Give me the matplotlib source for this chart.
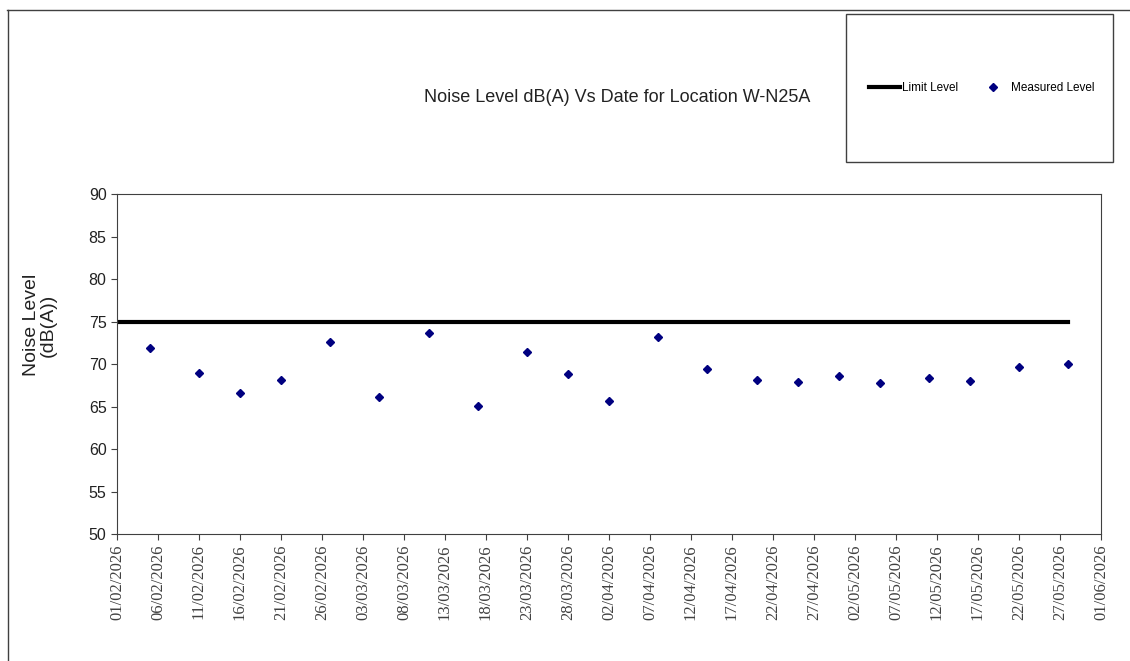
import numpy as np
import pandas as pd
import matplotlib
matplotlib.use('Agg')
import matplotlib.pyplot as plt
from matplotlib.patches import Rectangle

plt.rcParams['font.family'] = ['Liberation Sans', 'DejaVu Sans']

# Data
meas_dates = ['2026-02-05', '2026-02-11', '2026-02-16', '2026-02-21', '2026-02-27',
              '2026-03-05', '2026-03-11', '2026-03-17', '2026-03-23', '2026-03-28',
              '2026-04-02', '2026-04-08', '2026-04-14', '2026-04-20', '2026-04-25',
              '2026-04-30', '2026-05-05', '2026-05-11', '2026-05-16', '2026-05-22',
              '2026-05-28']
meas_levels = [71.9, 68.9, 66.55, 68.15, 72.55, 66.1, 73.7, 65.1, 71.4, 68.8,
               65.7, 73.2, 69.4, 68.1, 67.9, 68.6, 67.75, 68.4, 68.0, 69.7, 70.0]
limit_dates = ['2026-02-01', '2026-05-28']
limit_levels = [75, 75]

x_start = '2026-02-01'
x_end = '2026-06-01'

meas_dates = pd.to_datetime(meas_dates)
limit_dates = pd.to_datetime(limit_dates)

fig = plt.figure(figsize=(11.3, 6.61), dpi=100)
ax = fig.add_axes([0.1035, 0.1921, 0.8708, 0.5144])

ax.plot(limit_dates, limit_levels, color='black', lw=3, label='Limit Level')
ax.plot(meas_dates, meas_levels, ls='none', marker='D', ms=4.5, color='#000080',
        label='Measured Level')

ax.set_xlim(pd.Timestamp(x_start), pd.Timestamp(x_end))
ax.set_ylim(50, 90)
ax.set_yticks(np.arange(50, 91, 5))
ticks = pd.date_range(x_start, x_end, freq='5D')
ax.set_xticks(ticks)
ax.set_xticklabels([t.strftime('%d/%m/%Y') for t in ticks], rotation=90,
                   family='Liberation Serif', fontsize=12, color='#333333')
ax.tick_params(axis='y', labelsize=11.5, colors='#404040', labelcolor='#222222', length=4)
ax.tick_params(axis='x', colors='#404040', length=4)
for s in ax.spines.values():
    s.set_color('#404040')

fig.text(40 / 1130, 1 - 325 / 661, 'Noise Level\n(dB(A))', rotation=90,
         ha='center', va='center', fontsize=14, linespacing=1.0, color='#222222')

fig.text(617 / 1130, 1 - 98 / 661, 'Noise Level dB(A) Vs Date for Location W-N25A',
         ha='center', va='center', fontsize=13, color='#222222')

# legend box
fig.patches.append(Rectangle((846 / 1130, 1 - 162 / 661), 267 / 1130, 148 / 661,
                             transform=fig.transFigure, fill=False,
                             edgecolor='#404040', lw=1))
fig.legend(loc='center', bbox_to_anchor=(981.5 / 1130, 1 - 88 / 661), ncol=2,
           frameon=False, fontsize=8.5, handlelength=2.7, handletextpad=0.15,
           columnspacing=1.6)

# outer frame lines
fig.add_artist(plt.Line2D([7 / 1130, 1], [1 - 9.5 / 661] * 2, transform=fig.transFigure,
                          color='#404040', lw=1))
fig.add_artist(plt.Line2D([7.5 / 1130] * 2, [0, 1 - 9.5 / 661], transform=fig.transFigure,
                          color='#404040', lw=1))

fig.savefig('out.png', dpi=100)
